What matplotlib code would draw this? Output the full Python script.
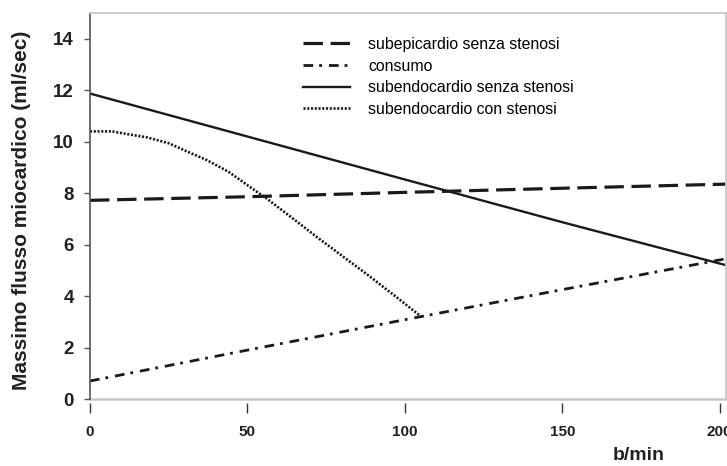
import matplotlib
matplotlib.use("Agg")
import matplotlib.pyplot as plt

plt.rcParams["font.family"] = ["Liberation Sans", "DejaVu Sans"]
plt.rcParams["lines.scale_dashes"] = False

# valori (b/min -> ml/sec)
bpm = [0, 50, 100, 150, 202]
subepi_senza = [7.72, 7.86, 8.03, 8.19, 8.35]
subendo_senza = [11.87, 10.20, 8.53, 6.87, 5.20]

bpm_consumo = [0, 50, 105, 150, 202]
consumo = [0.70, 1.90, 3.20, 4.25, 5.45]

bpm_stenosi = [0, 7, 12, 18, 25, 31, 37, 44, 50, 56, 63, 72, 80, 89, 97, 105]
subendo_stenosi = [10.40, 10.40, 10.29, 10.17, 9.94, 9.61, 9.29, 8.83, 8.31,
                   7.80, 7.15, 6.30, 5.57, 4.75, 3.99, 3.22]

y_ticks = [0, 2, 4, 6, 8, 10, 12, 14]
x_ticks = [0, 50, 100, 150, 200]

W, H = 727, 466
fig = plt.figure(figsize=(W / 100, H / 100), dpi=100)
ax = fig.add_axes([90 / W, 1 - 399 / H, (726 - 90) / W, (399 - 13) / H])

ink = "#1a1a1a"
ax.plot(bpm, subepi_senza, color=ink, lw=2.3, linestyle=(0, (14.0, 5.5)),
        solid_capstyle="butt", label="subepicardio senza stenosi")
ax.plot(bpm_consumo, consumo, color=ink, lw=2.0, linestyle=(0, (7.0, 4.3, 2.0, 5.0)),
        label="consumo")
ax.plot(bpm, subendo_senza, color=ink, lw=1.7, label="subendocardio senza stenosi")
ax.plot(bpm_stenosi, subendo_stenosi, color=ink, lw=1.9, linestyle=(0, (1.5, 1.2)),
        label="subendocardio con stenosi")

ax.set_xlim(0, 202)
ax.set_ylim(0, 15)
ax.set_yticks(y_ticks)
ax.set_xticks(x_ticks)

for side in ("top", "right"):
    ax.spines[side].set_color("#c8c8c8")
    ax.spines[side].set_linewidth(1.3)
ax.spines["left"].set_color("#555555")
ax.spines["left"].set_linewidth(1.2)
ax.spines["bottom"].set_position(("outward", 3))
ax.spines["bottom"].set_visible(False)
ax.axhline(0, color="#c8c8c8", lw=1.8, clip_on=False, zorder=0.5)

ax.tick_params(axis="y", direction="out", length=4.5, width=1.0, color="#555555",
               pad=7, labelsize=13.5, labelcolor="#222222")
ax.tick_params(axis="x", direction="out", length=7, width=1.0, color="#333333",
               pad=9, labelsize=11, labelcolor="#222222")
for lab in ax.get_yticklabels() + ax.get_xticklabels():
    lab.set_fontweight("bold")

fig.text(22 / W, 1 - 210 / H, "Massimo flusso miocardico (ml/sec)", rotation=90,
         ha="center", va="center", fontsize=15, fontweight="bold", color="#222222")
fig.text(639 / W, 1 - 456 / H, "b/min", ha="center", va="center",
         fontsize=14, fontweight="bold", color="#222222")

ax.legend(loc="upper left", bbox_to_anchor=(303 / W, 1 - 37 / H),
          bbox_transform=fig.transFigure, frameon=False, fontsize=11.4,
          handlelength=2.95, handletextpad=1.15, labelspacing=0.42,
          borderpad=0, borderaxespad=0)

fig.savefig("out.png", dpi=100)
